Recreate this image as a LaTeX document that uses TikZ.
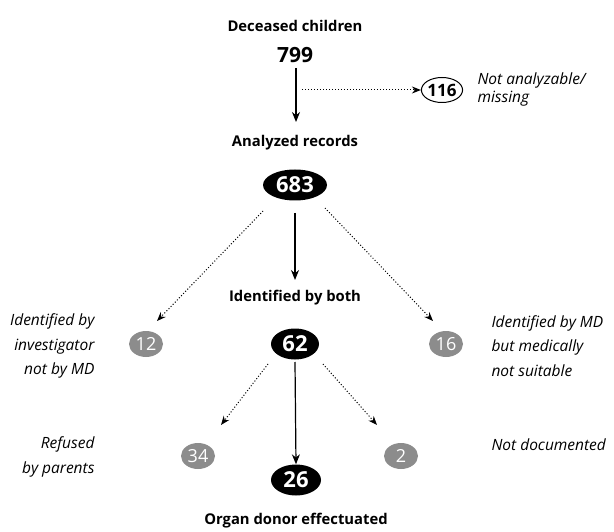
\documentclass[tikz,border=0pt]{standalone}
\usepackage{fontspec}
\setmainfont{Open Sans}
\usetikzlibrary{arrows.meta,shapes.geometric}
\begin{document}
\begin{tikzpicture}[x=1pt,y=-1pt,
  title/.style={font=\fontsize{14.8}{16}\selectfont\bfseries},
  lab/.style={font=\fontsize{15.5}{24.5}\selectfont\itshape},
  blk/.style={ellipse,fill=black,text=white,inner sep=0pt,minimum height=31pt,font=\fontsize{22}{24}\selectfont\bfseries},
  gry/.style={ellipse,fill=black!45,text=white,inner sep=0pt,minimum width=34pt,minimum height=26pt,font=\fontsize{18}{20}\selectfont},
  wht/.style={ellipse,draw=black,line width=1pt,fill=white,inner sep=0pt,minimum width=32pt,minimum height=25pt,font=\fontsize{17}{19}\selectfont\bfseries},
  solidarr/.style={line width=1.2pt,-{Stealth[length=10pt,width=8pt]}},
  dotarr/.style={line width=1pt,dotted,-{Stealth[length=9pt,width=7pt]}}]
\useasboundingbox (0,0) rectangle (614,532);
\node[title] (t1) at (295,26) {Deceased children};
\node[font=\fontsize{21}{23}\selectfont\bfseries] (n799) at (295,55) {799};
\node[wht] (n116) at (442,90) {116};
\node[lab,align=left,anchor=west,font=\fontsize{15.5}{18}\selectfont\itshape] (l116) at (474,89) {Not analyzable/\\missing};
\node[title] (t2) at (295,143) {Analyzed records};
\node[blk,minimum width=64pt] (n683) at (295,185) {683};
\node[title] (t3) at (295,298) {Identified by both};
\node[blk,minimum width=48pt] (n62) at (295,344) {62};
\node[gry] (n12) at (146,344) {12};
\node[gry] (n16) at (446,344) {16};
\node[lab,align=right,anchor=east] (l12) at (98,346) {Identified by\\investigator\\not by MD};
\node[lab,align=left,anchor=west] (l16) at (488,346) {Identified by MD\\but medically\\not suitable};
\node[gry] (n34) at (198,456) {34};
\node[gry] (n2) at (401,456) {2};
\node[blk,minimum width=50pt] (n26) at (296,480) {26};
\node[title] (t4) at (296,521) {Organ donor effectuated};
\node[lab,align=right,anchor=east] (l34) at (98,457) {Refused\\by parents};
\node[lab,anchor=west] (l2) at (488,445) {Not documented};
\coordinate (a1) at (296,68);
\coordinate (a2) at (296,122);
\draw[solidarr] (a1) -- (a2);
\coordinate (d1) at (302,90);
\draw[dotarr] (d1) -- (n116.west);
\coordinate (c1s) at (295,213);
\coordinate (c1e) at (295,280);
\draw[solidarr] (c1s) -- (c1e);
\coordinate (l1s) at (263,211);
\coordinate (l1e) at (157,321);
\draw[dotarr] (l1s) -- (l1e);
\coordinate (r1s) at (325,208);
\coordinate (r1e) at (433,321);
\draw[dotarr] (r1s) -- (r1e);
\coordinate (c2s) at (295,362);
\draw[solidarr] (c2s) -- (n26.north);
\coordinate (l2s) at (268,364);
\coordinate (l2e) at (221,425);
\draw[dotarr] (l2s) -- (l2e);
\coordinate (r2s) at (323,364);
\coordinate (r2e) at (377,425);
\draw[dotarr] (r2s) -- (r2e);
\end{tikzpicture}
\end{document}
